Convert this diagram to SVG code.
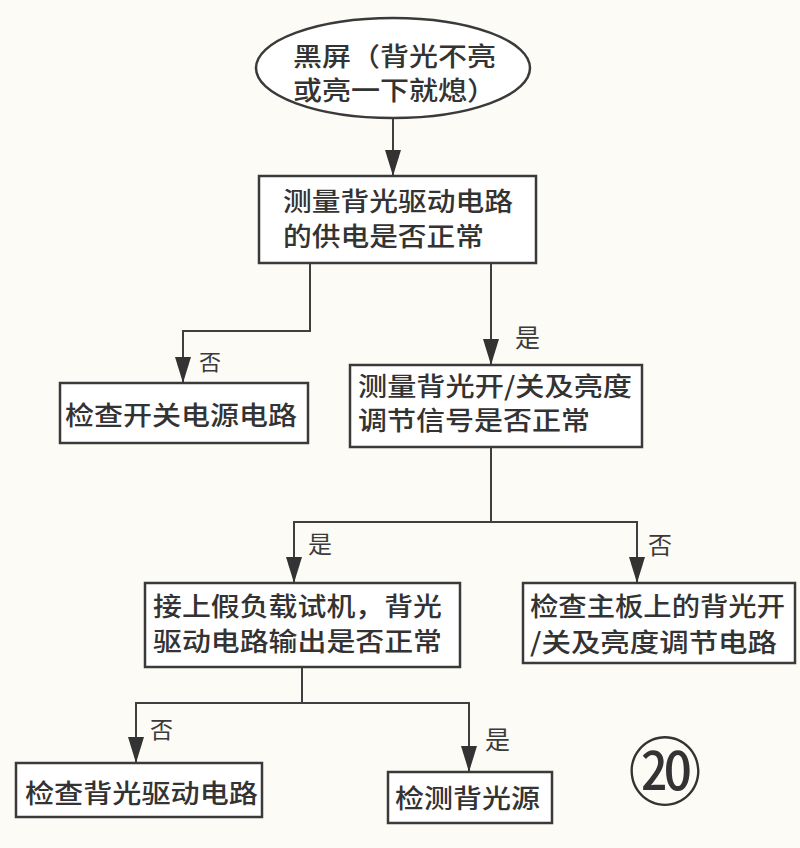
<svg xmlns="http://www.w3.org/2000/svg" width="800" height="848" viewBox="0 0 800 848">
<style>
.bg{fill:#fcfbf6}
.node{fill:#ffffff;stroke:#3a3a3a;stroke-width:2.5}
.t{font-family:"Noto Sans CJK SC","Noto Sans CJK JP",sans-serif;font-size:26px;font-weight:500;fill:#333333}
.lbl{font-family:"Noto Sans CJK SC","Noto Sans CJK JP",sans-serif;fill:#3a3a3a}
.edge{fill:none;stroke:#3f3f3f;stroke-width:2;marker-end:url(#arrow)}
</style>
<defs>
<marker id="arrow" viewBox="0 0 26 16" refX="26" refY="8" markerWidth="26" markerHeight="16" markerUnits="userSpaceOnUse" orient="auto">
<path d="M0,0 L26,8 L0,16 z" fill="#333333"/>
</marker>
</defs>
<rect class="bg" x="0" y="0" width="800" height="848"/>

<g id="connectors">
<path class="edge" d="M393,118 V176"/>
<path class="edge" d="M310,263 V331 H183 V383"/>
<path class="edge" d="M491,263 V365"/>
<path class="edge" d="M491,447 V522 H294 V583"/>
<path class="edge" d="M491,522 H637 V583"/>
<path class="edge" d="M302,667 V703 H136 V763"/>
<path class="edge" d="M302,703 H469 V772"/>
<text class="lbl" x="199" y="370" font-size="22">否</text>
<text class="lbl" x="515" y="347" font-size="25">是</text>
<text class="lbl" x="308" y="553" font-size="24">是</text>
<text class="lbl" x="648" y="554" font-size="24">否</text>
<text class="lbl" x="150" y="738" font-size="23">否</text>
<text class="lbl" x="485" y="749" font-size="25">是</text>
</g>

<g id="start">
<ellipse class="node" cx="393" cy="68" rx="137" ry="50"/>
<text class="t" x="293" y="66" textLength="203" lengthAdjust="spacingAndGlyphs">黑屏（背光不亮</text>
<text class="t" x="293" y="100" textLength="203" lengthAdjust="spacingAndGlyphs">或亮一下就熄）</text>
</g>

<g id="n1">
<rect class="node" x="259" y="176" width="277" height="87"/>
<text class="t" x="283" y="211" textLength="230" lengthAdjust="spacingAndGlyphs">测量背光驱动电路</text>
<text class="t" x="283" y="246" textLength="201" lengthAdjust="spacingAndGlyphs">的供电是否正常</text>
</g>

<g id="n2">
<rect class="node" x="60" y="383" width="248" height="60"/>
<text class="t" x="65" y="425" font-size="28" textLength="232" lengthAdjust="spacingAndGlyphs">检查开关电源电路</text>
</g>

<g id="n3">
<rect class="node" x="350" y="365" width="292" height="82"/>
<text class="t" x="358" y="396" textLength="274" lengthAdjust="spacingAndGlyphs">测量背光开/关及亮度</text>
<text class="t" x="358" y="430" textLength="232" lengthAdjust="spacingAndGlyphs">调节信号是否正常</text>
</g>

<g id="n4">
<rect class="node" x="145" y="583" width="315" height="84"/>
<text class="t" x="153" y="616" textLength="289" lengthAdjust="spacingAndGlyphs">接上假负载试机，背光</text>
<text class="t" x="153" y="651" textLength="289" lengthAdjust="spacingAndGlyphs">驱动电路输出是否正常</text>
</g>

<g id="n5">
<rect class="node" x="523" y="583" width="272" height="80"/>
<text class="t" x="530" y="616" textLength="255" lengthAdjust="spacingAndGlyphs">检查主板上的背光开</text>
<text class="t" x="530" y="652" textLength="247" lengthAdjust="spacingAndGlyphs">/关及亮度调节电路</text>
</g>

<g id="n6">
<rect class="node" x="16" y="763" width="246" height="54"/>
<text class="t" x="25" y="803" textLength="233" lengthAdjust="spacingAndGlyphs">检查背光驱动电路</text>
</g>

<g id="n7">
<rect class="node" x="388" y="772" width="164" height="51"/>
<text class="t" x="395" y="808" textLength="145" lengthAdjust="spacingAndGlyphs">检测背光源</text>
</g>

<g id="figno">
<text x="665" y="799" font-size="74" text-anchor="middle" font-family="'Liberation Serif','Noto Sans CJK SC',serif" fill="#333333">⑳</text>
</g>
</svg>
